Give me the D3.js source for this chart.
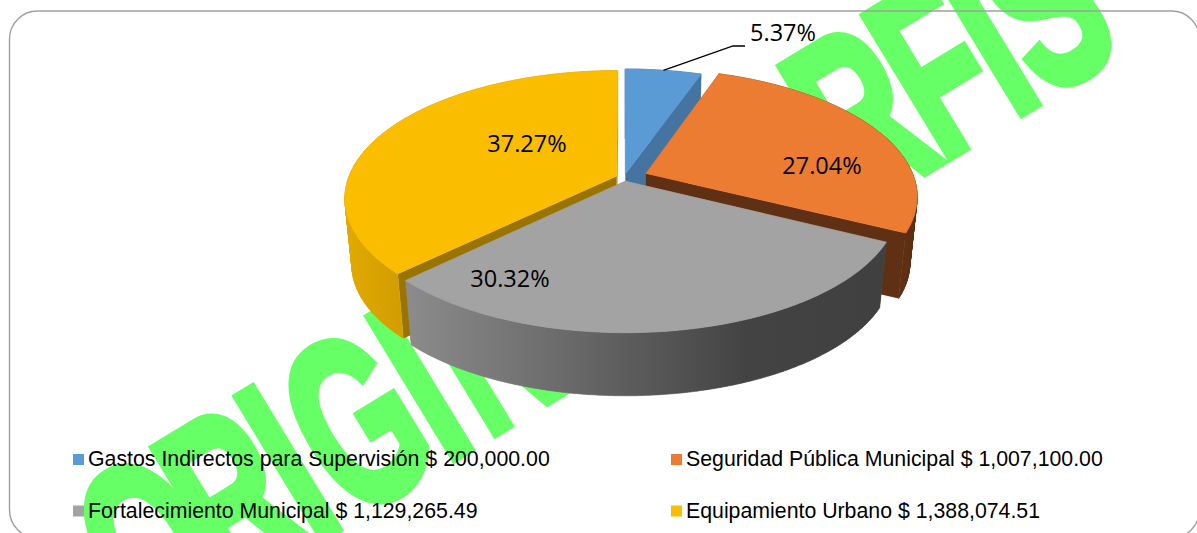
<!DOCTYPE html>
<html><head><meta charset="utf-8">
<style>html,body{margin:0;padding:0;background:#fff;overflow:hidden}svg{display:block}</style>
<script src="https://cdn.jsdelivr.net/npm/d3@7/dist/d3.min.js"></script>
</head><body><svg id="c" width="1197" height="533"></svg>
<script>
const categories = ["Gastos Indirectos para Supervisión","Seguridad Pública Municipal","Fortalecimiento Municipal","Equipamiento Urbano"];
const amounts = [200000.00,1007100.00,1129265.49,1388074.51];
const amountLabels = ["$ 200,000.00","$ 1,007,100.00","$ 1,129,265.49","$ 1,388,074.51"];
const explosion = [0.03,0.089,0.03,0.03];
const topColors = ["#5B9BD5","#EC7C31","#A3A3A3","#FBBD00"];
const sideColors = ["#4674A1","#5F3014","#9A7400","#9A7400"];
const wmLeft = ["O","R","I","G","I","N"];
const wmLeftPos = [-930,-832,-734,-690,-580,-532];
const wmRight = ["R","F","I","S"];
const wmRightPos = [-98,0,84,122];

const svg = d3.select("#c");
const defs = svg.append("defs");
const gGray = defs.append("linearGradient").attr("id","wallGray").attr("gradientUnits","userSpaceOnUse").attr("x1",405).attr("x2",881).attr("y1",0).attr("y2",0);
gGray.append("stop").attr("offset",0).attr("stop-color","#8C8C8C");
gGray.append("stop").attr("offset",0.72).attr("stop-color","#434343");
gGray.append("stop").attr("offset",1).attr("stop-color","#404040");
const gYel = defs.append("linearGradient").attr("id","wallYel").attr("gradientUnits","userSpaceOnUse").attr("x1",345).attr("x2",410).attr("y1",0).attr("y2",0);
gYel.append("stop").attr("offset",0).attr("stop-color","#E2AA00");
gYel.append("stop").attr("offset",1).attr("stop-color","#CF9C00");

// watermark
const wmScale = 0.6, wmSize = 240;
const wm = svg.append("g").attr("transform",`translate(948,163) rotate(-31.3) scale(${wmScale},1)`)
  .attr("font-family","'Liberation Sans'").attr("font-weight","bold").attr("font-size",wmSize)
  .attr("fill","#66FF66").attr("stroke","#66FF66").attr("stroke-width",9).attr("stroke-linejoin","miter");
[[wmLeft,wmLeftPos],[wmRight,wmRightPos]].forEach(([t,p])=>{
  wm.append("text").attr("y",-4)
    .attr("x",p.map(s=>(s-6)/wmScale).join(" "))
    .text(t.join(""));
});

// projection of the tilted disk
const cx=624, cy=177.5, B=268, A=124, k=0.172, shrink=0.025, T=67;
function project(u,v,z){
  const den=1-k*v, s=1-shrink*z;
  return [cx+B*u/den*s, cy+A*v/den*s+T*z];
}
const pie = d3.pie().sort(null).startAngle(0).endAngle(2*Math.PI)(amounts);
const total = d3.sum(amounts);
const pct = d3.format(".2%");
const line = d3.line();

function rim(d,i,a,z){
  const mid=(d.startAngle+d.endAngle)/2, e=explosion[i];
  return project(e*Math.sin(mid)+Math.sin(a), -e*Math.cos(mid)-Math.cos(a), z);
}
function apex(d,i,z){
  const mid=(d.startAngle+d.endAngle)/2, e=explosion[i];
  return project(e*Math.sin(mid), -e*Math.cos(mid), z);
}
function arcPts(d,i,z){
  const a0=d.startAngle,a1=d.endAngle,n=Math.max(2,Math.ceil((a1-a0)/0.01));
  return d3.range(n+1).map(j=>rim(d,i,a0+(a1-a0)*j/n,z));
}
const pieG = svg.append("g");
const wallFill = ["#4674A1","#5F3014","url(#wallGray)","url(#wallYel)"];
[0,1,3,2].forEach(i=>{
  const d=pie[i], g=pieG.append("g");
  [d.startAngle,d.endAngle].forEach(a=>{
    g.append("path").attr("fill",sideColors[i]).attr("d",line([apex(d,i,0),rim(d,i,a,0),rim(d,i,a,1),apex(d,i,1)])+"Z");
  });
  const top=arcPts(d,i,0), bot=arcPts(d,i,1);
  const wall=d3.range(top.length-1).map(j=>{
    const q=[top[j],top[j+1],bot[j+1],bot[j]];
    return line(d3.polygonArea(q)<0?q.reverse():q)+"Z";
  }).join("");
  g.append("path").attr("fill",wallFill[i]).attr("stroke",wallFill[i]).attr("stroke-width",0.6).attr("d",wall);
  g.append("path").attr("fill",topColors[i]).attr("stroke",topColors[i]).attr("stroke-width",0.8).attr("stroke-linejoin","round")
    .attr("d",line([apex(d,i,0)].concat(top))+"Z");
});

// labels
const labelAt=[[783,33],[822,166],[510,279],[527,144]];
const lblG=svg.append("g").attr("font-family","'Open Sans'").attr("font-size",23.5).attr("fill","#000").attr("text-anchor","middle");
amounts.forEach((v,i)=>{
  lblG.append("text").attr("x",labelAt[i][0]).attr("y",labelAt[i][1]).attr("dy","0.36em").text(pct(v/total));
});
svg.append("path").attr("fill","none").attr("stroke","#000").attr("stroke-width",1.3)
  .attr("d",line([rim(pie[0],0,(pie[0].startAngle+pie[0].endAngle)/2,0),[733,46],[745,46]]));

// legend
const legX=d3.scaleOrdinal().domain([0,1]).range([73,671]);
const legY=d3.scaleOrdinal().domain([0,1]).range([454,505.5]);
const leg=svg.append("g").attr("font-family","'Liberation Sans'").attr("font-size",21.3).attr("fill","#000");
categories.forEach((c,i)=>{
  const col=i%2,row=Math.floor(i/2);
  leg.append("rect").attr("x",legX(col)).attr("y",legY(row)).attr("width",11).attr("height",11).attr("fill",topColors[i]);
  leg.append("text").attr("x",legX(col)+15).attr("y",legY(row)+12).text(c+" "+amountLabels[i]);
});

// chart frame
svg.append("rect").attr("x",9.5).attr("y",11).attr("width",1190).attr("height",527).attr("rx",28).attr("ry",28)
  .attr("fill","none").attr("stroke","#A0A0A0").attr("stroke-width",1.4);
</script></body></html>
